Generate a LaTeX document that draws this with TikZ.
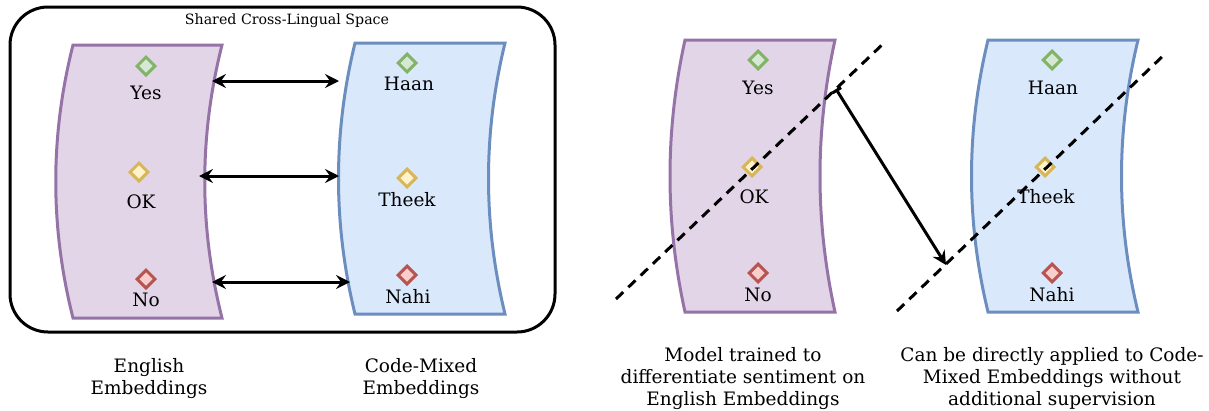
\documentclass[tikz,border=0pt]{standalone}
\usepackage{fontspec}
\setmainfont{DejaVu Serif}
\usetikzlibrary{shapes.geometric,arrows.meta}
\definecolor{enfill}{HTML}{E1D5E7}
\definecolor{enline}{HTML}{9673A6}
\definecolor{cmfill}{HTML}{DAE8FC}
\definecolor{cmline}{HTML}{6C8EBF}
\definecolor{posfill}{HTML}{D5E8D4}
\definecolor{posline}{HTML}{82B366}
\definecolor{neufill}{HTML}{FFF2CC}
\definecolor{neuline}{HTML}{D6B656}
\definecolor{negfill}{HTML}{F8CECC}
\definecolor{negline}{HTML}{B85450}
\tikzset{
  enband/.style={draw=enline,fill=enfill,line width=3pt},
  cmband/.style={draw=cmline,fill=cmfill,line width=3pt},
  sentdiam/.style={diamond,minimum width=19pt,minimum height=19pt,inner sep=0pt,line width=3pt},
  posdiam/.style={sentdiam,draw=posline,fill=posfill},
  neudiam/.style={sentdiam,draw=neuline,fill=neufill},
  negdiam/.style={sentdiam,draw=negline,fill=negfill},
  wordtext/.style={inner sep=0pt,font=\fontsize{18.5}{22}\selectfont},
  captext/.style={inner sep=0pt,anchor=north,align=center,font=\fontsize{18.5}{22}\selectfont},
  linkarrow/.style={line width=3pt,{Stealth[length=14pt,width=14pt,inset=5pt]}-{Stealth[length=14pt,width=14pt,inset=5pt]}},
  splitline/.style={line width=3pt,dash pattern=on 10pt off 7pt}
}
\begin{document}
\begin{tikzpicture}[x=1pt,y=-1pt]
\useasboundingbox (0,0) rectangle (1209,410);
% shared space box
\draw[line width=3pt,rounded corners=38pt] (10,7) rectangle (555,332);
\node[inner sep=0pt,font=\fontsize{14.2}{16}\selectfont] (title) at (287,21) {Shared Cross-Lingual Space};
% embedding bands
\draw[enband] (73,45) -- (222,45) .. controls (199,136) and (199,227) .. (222,318)
  -- (73,318) .. controls (50,227) and (50,136) .. (73,45) -- cycle;
\draw[cmband] (355,43) -- (505,43) .. controls (483,133) and (483,224) .. (505,314)
  -- (355,314) .. controls (333,224) and (333,133) .. (355,43) -- cycle;
\draw[enband] (685,40) -- (835,40) .. controls (815,131) and (815,221) .. (835,312)
  -- (685,312) .. controls (665,221) and (665,131) .. (685,40) -- cycle;
\draw[cmband] (988,40) -- (1138,40) .. controls (1116,131) and (1116,221) .. (1138,312)
  -- (988,312) .. controls (966,221) and (966,131) .. (988,40) -- cycle;
% words, left
\node[posdiam] (yesA) at (146,66) {};
\node[wordtext] (yesAt) at (146,93) {Yes};
\node[neudiam] (okA) at (139,172) {};
\node[wordtext] (okAt) at (141,202) {OK};
\node[negdiam] (noA) at (146,279) {};
\node[wordtext] (noAt) at (146,300) {No};
\node[posdiam] (haanA) at (407,63) {};
\node[wordtext] (haanAt) at (409,84) {Haan};
\node[neudiam] (theekA) at (407,178) {};
\node[wordtext] (theekAt) at (407,200) {Theek};
\node[negdiam] (nahiA) at (407,275) {};
\node[wordtext] (nahiAt) at (408,297) {Nahi};
% alignment arrows
\coordinate (enTop) at (212,81);
\coordinate (cmTop) at (339,81);
\coordinate (enMid) at (199,176);
\coordinate (cmMid) at (339,176);
\coordinate (enBot) at (212,282);
\coordinate (cmBot) at (350,282);
\draw[linkarrow] (enTop) -- (cmTop);
\draw[linkarrow] (enMid) -- (cmMid);
\draw[linkarrow] (enBot) -- (cmBot);
% words, right
\node[posdiam] (yesB) at (758,60) {};
\node[wordtext] (yesBt) at (758,88) {Yes};
\node[neudiam] (okB) at (752,167) {};
\node[wordtext] (okBt) at (754,197) {OK};
\node[negdiam] (noB) at (758,273) {};
\node[wordtext] (noBt) at (758,295) {No};
\node[posdiam] (haanB) at (1052,60) {};
\node[wordtext] (haanBt) at (1053,88) {Haan};
\node[neudiam] (theekB) at (1045,167) {};
\node[wordtext] (theekBt) at (1046,197) {Theek};
\node[negdiam] (nahiB) at (1052,273) {};
\node[wordtext] (nahiBt) at (1052,295) {Nahi};
% decision boundaries
\coordinate (splitAlo) at (616,299);
\coordinate (splitAhi) at (885,42);
\coordinate (splitBlo) at (897,311);
\coordinate (splitBhi) at (1166,53);
\draw[splitline] (splitAlo) -- (splitAhi);
\draw[splitline] (splitBlo) -- (splitBhi);
\coordinate (transA) at (836,89);
\coordinate (transB) at (946,265);
\draw[line width=3pt,{Bar[width=10pt]}-{Stealth[length=14pt,width=14pt,inset=5pt]}] (transA) -- (transB);
% captions
\node[captext] (enCap) at (149,358) {English\\Embeddings};
\node[captext] (cmCap) at (421,358) {Code-Mixed\\Embeddings};
\node[captext] (trainCap) at (743,347) {Model trained to\\differentiate sentiment on\\English Embeddings};
\node[captext] (applyCap) at (1052,347) {Can be directly applied to Code-\\Mixed Embeddings without\\additional supervision};
\end{tikzpicture}
\end{document}
